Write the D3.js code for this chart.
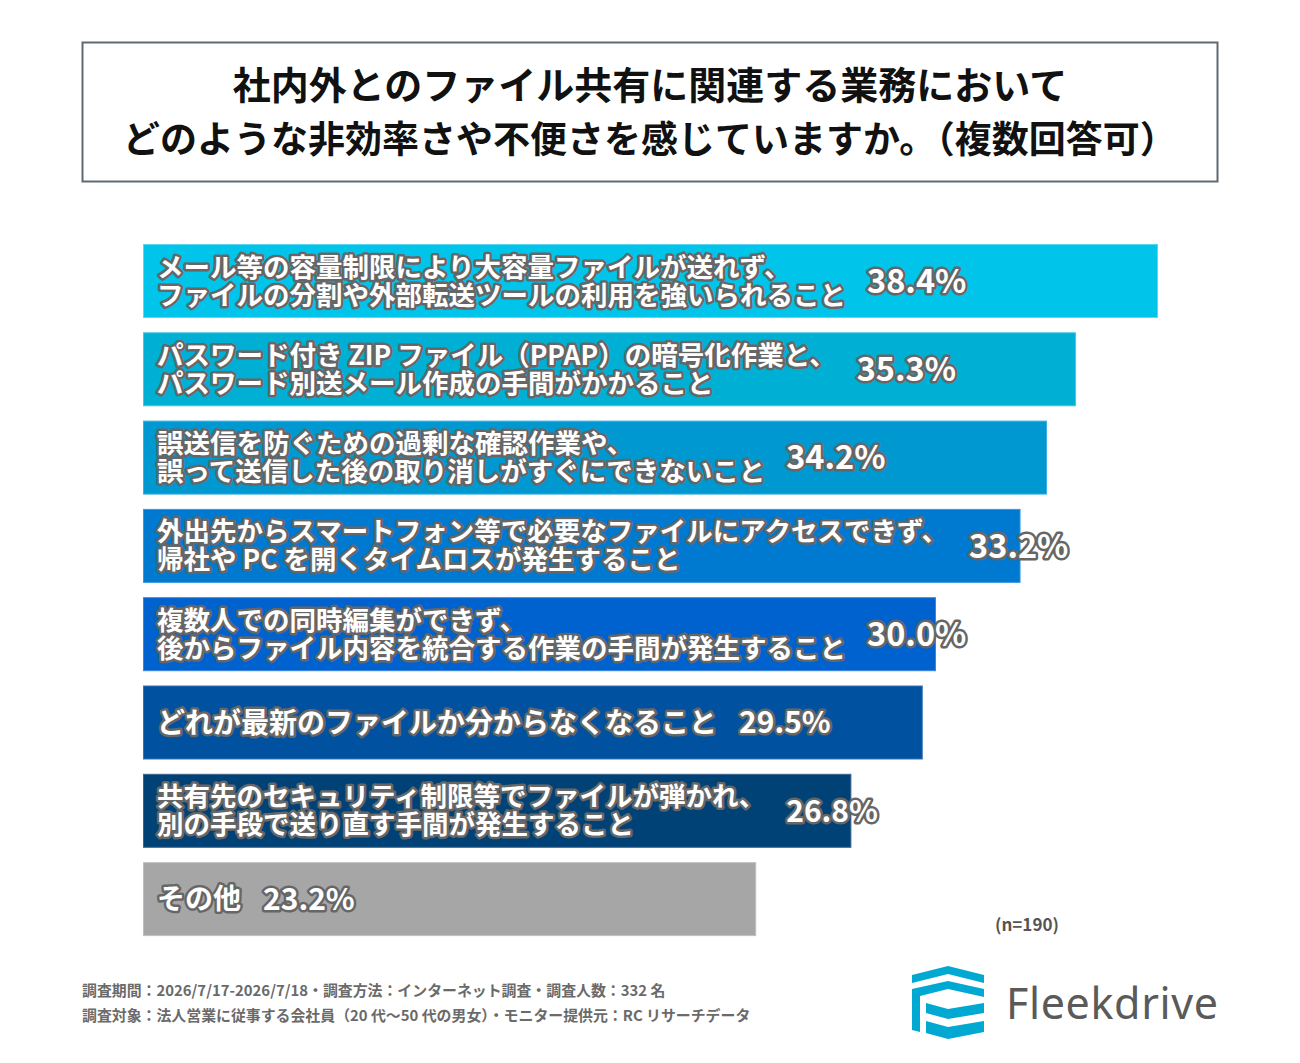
<!DOCTYPE html>
<html>
<head>
<meta charset="utf-8">
<script src="https://cdn.jsdelivr.net/npm/d3@7"></script>
<style>
  body { margin: 0; background: #fff; }
  svg { display: block; font-family: "Noto Sans CJK JP", "Noto Sans", sans-serif; }
  .bar-label, .bar-value {
    fill: #fff;
    font-weight: bold;
    stroke: #666;
    stroke-width: 5px;
    stroke-linejoin: round;
    paint-order: stroke;
  }
</style>
</head>
<body>
<svg id="chart" width="1300" height="1063"></svg>
<script>
// chart data
var titleLines = [
  '社内外とのファイル共有に関連する業務において',
  'どのような非効率さや不便さを感じていますか。（複数回答可）'
];
var categories = [
  ['メール等の容量制限により大容量ファイルが送れず、', 'ファイルの分割や外部転送ツールの利用を強いられること'],
  ['パスワード付き ZIP ファイル（PPAP）の暗号化作業と、', 'パスワード別送メール作成の手間がかかること'],
  ['誤送信を防ぐための過剰な確認作業や、', '誤って送信した後の取り消しがすぐにできないこと'],
  ['外出先からスマートフォン等で必要なファイルにアクセスできず、', '帰社や PC を開くタイムロスが発生すること'],
  ['複数人での同時編集ができず、', '後からファイル内容を統合する作業の手間が発生すること'],
  ['どれが最新のファイルか分からなくなること'],
  ['共有先のセキュリティ制限等でファイルが弾かれ、', '別の手段で送り直す手間が発生すること'],
  ['その他']
];
var values = [38.4, 35.3, 34.2, 33.2, 30.0, 29.5, 26.8, 23.2];
var barColors = ['#00c4e9', '#00b0d4', '#0098d0', '#0079d0', '#0062cf', '#0052a0', '#004276', '#a6a6a6'];
var barEdges = ['#5fd6f0', '#4cc4e2', '#3db0e0', '#3b97df', '#3a84dc', '#3a74b4', '#3a6690', '#c0c0c0'];
var sampleNote = '(n=190)';
var footnotes = [
  '調査期間：2026/7/17-2026/7/18・調査方法：インターネット調査・調査人数：332 名',
  '調査対象：法人営業に従事する会社員（20 代〜50 代の男女）・モニター提供元：RC リサーチデータ'
];
var brandName = 'Fleekdrive';

var svg = d3.select('#chart');

// layout
var chart = {l: 143, t: 244, step: 88.3, barH: 74};
var labelX = 157;

var x = d3.scaleLinear()
  .domain([0, 38.4])
  .range([chart.l, 1158]);

// title box
svg.append('rect')
  .attr('x', 82.5).attr('y', 42.5)
  .attr('width', 1135).attr('height', 139)
  .attr('fill', '#fff')
  .attr('stroke', '#5e6a72')
  .attr('stroke-width', 2);

svg.selectAll('.title')
  .data(titleLines)
  .enter()
  .append('text')
  .attr('class', 'title')
  .attr('x', 650)
  .attr('y', function(d, i) { return 86 + i * 54; })
  .attr('dy', '0.35em')
  .attr('text-anchor', 'middle')
  .style('font-size', function(d, i) { return i === 0 ? '38px' : '37px'; })
  .style('font-weight', 'bold')
  .attr('fill', '#111')
  .text(function(d) { return d; });

// bars
var rows = svg.selectAll('.row')
  .data(values)
  .enter()
  .append('g')
  .attr('class', 'row')
  .attr('transform', function(d, i) {
    return `translate(0, ${chart.t + i * chart.step})`;
  });

rows.append('rect')
  .attr('x', chart.l + 0.5)
  .attr('y', 0.5)
  .attr('width', function(d) { return x(d) - chart.l - 1; })
  .attr('height', chart.barH - 1)
  .attr('fill', function(d, i) { return barColors[i]; })
  .attr('stroke', function(d, i) { return barEdges[i]; })
  .attr('stroke-width', 1);

rows.each(function(d, i) {
  var g = d3.select(this);
  var lines = categories[i];
  var two = lines.length > 1;
  var size = two ? 26.5 : 28;
  var gap = two ? 28 : 0;
  var mid = chart.barH / 2;
  var maxW = 0;
  lines.forEach(function(line, j) {
    var offset = (j - (lines.length - 1) / 2) * gap;
    var t = g.append('text')
      .attr('class', 'bar-label')
      .attr('x', labelX)
      .attr('y', mid + offset)
      .attr('dy', '0.36em')
      .style('font-size', size + 'px')
      .text(line);
    maxW = Math.max(maxW, t.node().getComputedTextLength());
  });
  var big = two && i < 5;
  g.append('text')
    .attr('class', 'bar-value')
    .attr('x', labelX + maxW + (two ? 21 : 22))
    .attr('y', mid)
    .attr('dy', '0.36em')
    .style('font-size', big ? '32.5px' : '30px')
    .text(d.toFixed(1) + '%');
});

// sample size
svg.append('text')
  .attr('x', 995)
  .attr('y', 925)
  .attr('dy', '0.35em')
  .style('font-size', '17px')
  .style('font-weight', 'bold')
  .attr('fill', '#555')
  .text(sampleNote);

// footnotes
svg.selectAll('.foot')
  .data(footnotes)
  .enter()
  .append('text')
  .attr('class', 'foot')
  .attr('x', 82)
  .attr('y', function(d, i) { return 991 + i * 25; })
  .attr('dy', '0.35em')
  .style('font-size', '14.9px')
  .style('font-weight', 'bold')
  .attr('fill', '#6a6a6a')
  .text(function(d) { return d; });

// logo mark
var logo = svg.append('g').attr('transform', 'translate(912, 966)').attr('fill', '#00a8d2');
var shapes = [
  [[0, 9], [36, 0], [72, 9], [72, 17], [36, 8], [0, 17]],
  [[0, 23], [36, 15], [72, 23], [72, 31], [36, 23], [8, 30], [8, 66], [0, 64]],
  [[14, 37], [36, 43], [72, 37], [72, 47], [36, 53], [14, 47]],
  [[14, 55], [36, 61], [72, 55], [72, 66], [36, 73], [14, 67]]
];
logo.selectAll('path')
  .data(shapes)
  .enter()
  .append('path')
  .attr('d', function(d) { return d3.line()(d) + 'Z'; });

svg.append('text')
  .attr('x', 1006)
  .attr('y', 1019)
  .style('font-family', '"Noto Sans", sans-serif')
  .style('font-size', '43px')
  .attr('fill', '#5a5a5a')
  .attr('textLength', 212)
  .text(brandName);
</script>
</body>
</html>
